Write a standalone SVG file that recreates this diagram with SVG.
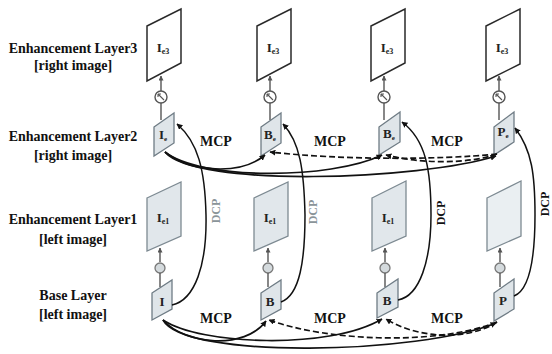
<svg xmlns="http://www.w3.org/2000/svg" width="552" height="354" viewBox="0 0 552 354">
  <style>
    text { font-family: 'Liberation Serif', 'DejaVu Serif', 'Times New Roman', serif; font-weight: bold; }
    .lbl { font-size: 14px; fill: #111; text-anchor: middle; }
    .tag { font-size: 14px; fill: #111; text-anchor: middle; }
    .dcp { font-size: 12px; text-anchor: middle; }
    .in  { font-size: 13px; fill: #222; text-anchor: middle; }
    .big3 { fill: #ffffff; stroke: #2a2a2a; stroke-width: 1.5; }
    .big1 { fill: #e1e7eb; stroke: #7d8a92; stroke-width: 1.3; }
    .small { fill: #dfe5e9; stroke: #6f7c85; stroke-width: 1.3; }
    .ring { fill: #ffffff; stroke: #555; stroke-width: 1.4; }
    .ring1 { fill: #d4dadd; stroke: #777; stroke-width: 1.3; }
    .up { stroke: #555; stroke-width: 1.4; fill: none; }
    .solid { fill: none; stroke: #111; stroke-width: 1.7; }
    .dash { fill: none; stroke: #111; stroke-width: 1.7; stroke-dasharray: 6 3; }
    .dcpline { fill: none; stroke: #111; stroke-width: 1.5; }
  </style>
  <defs>
    <marker id="ah" viewBox="0 0 10 10" refX="9" refY="5" markerWidth="6" markerHeight="6" orient="auto" markerUnits="userSpaceOnUse">
      <path d="M0,0 L10,5 L0,10 z" fill="#111"/>
    </marker>
    <marker id="ahs" viewBox="0 0 10 10" refX="9" refY="5" markerWidth="5" markerHeight="5" orient="auto" markerUnits="userSpaceOnUse">
      <path d="M0,0 L10,5 L0,10 z" fill="#555"/>
    </marker>
  </defs>

  <!-- layer captions -->
  <g id="captions">
    <text class="lbl" x="73" y="53">Enhancement Layer3</text>
    <text class="lbl" x="73" y="70">[right image]</text>
    <text class="lbl" x="73" y="141">Enhancement Layer2</text>
    <text class="lbl" x="73" y="160">[right image]</text>
    <text class="lbl" x="73" y="224">Enhancement Layer1</text>
    <text class="lbl" x="73" y="244">[left image]</text>
    <text class="lbl" x="73" y="300">Base Layer</text>
    <text class="lbl" x="73" y="319">[left image]</text>
  </g>

  <!-- column 1 -->
  <g id="col1">
    <polygon class="big3" points="147,26 181,9 181,63 147,81"/>
    <text class="in" x="163" y="52">I<tspan font-size="8" dy="2">e3</tspan></text>
    <line class="up" x1="161" y1="91" x2="161" y2="76" marker-end="url(#ahs)"/>
    <circle class="ring" cx="161" cy="97" r="6"/>
    <path d="M158,94 L164,100 M158,94 l3,0 M158,94 l0,3" stroke="#555" stroke-width="1.1" fill="none"/>
    <line class="up" x1="161" y1="103" x2="161" y2="120"/>
    <polygon class="small" points="154,127 174,113 174,143 154,156"/>
    <text class="in" x="163" y="139">I<tspan font-size="7" dy="2">e</tspan></text>
    <polygon class="big1" points="147,198 181,182 181,236 147,251"/>
    <text class="in" x="163" y="222">I<tspan font-size="8" dy="2">e1</tspan></text>
    <line class="up" x1="160" y1="262" x2="160" y2="248" marker-end="url(#ahs)"/>
    <circle class="ring1" cx="160" cy="268" r="5"/>
    <line class="up" x1="160" y1="273" x2="160" y2="287"/>
    <polygon class="small" points="152,293 172,280 172,309 152,320"/>
    <text class="in" x="162" y="306">I</text>
  </g>

  <!-- column 2 -->
  <g id="col2">
    <polygon class="big3" points="257,26 291,9 291,63 257,81"/>
    <text class="in" x="273" y="52">I<tspan font-size="8" dy="2">e3</tspan></text>
    <line class="up" x1="270" y1="91" x2="270" y2="76" marker-end="url(#ahs)"/>
    <circle class="ring" cx="270" cy="97" r="6"/>
    <path d="M267,94 L273,100 M267,94 l3,0 M267,94 l0,3" stroke="#555" stroke-width="1.1" fill="none"/>
    <line class="up" x1="270" y1="103" x2="270" y2="120"/>
    <polygon class="small" points="261,127 281,113 281,143 261,156"/>
    <text class="in" x="270" y="139">B<tspan font-size="7" dy="2">e</tspan></text>
    <polygon class="big1" points="254,198 288,182 288,236 254,251"/>
    <text class="in" x="270" y="222">I<tspan font-size="8" dy="2">e1</tspan></text>
    <line class="up" x1="268" y1="262" x2="268" y2="248" marker-end="url(#ahs)"/>
    <circle class="ring1" cx="268" cy="268" r="5"/>
    <line class="up" x1="268" y1="273" x2="268" y2="287"/>
    <polygon class="small" points="261,293 281,280 281,309 261,320"/>
    <text class="in" x="270" y="306">B</text>
  </g>

  <!-- column 3 -->
  <g id="col3">
    <polygon class="big3" points="371,26 405,9 405,63 371,81"/>
    <text class="in" x="387" y="52">I<tspan font-size="8" dy="2">e3</tspan></text>
    <line class="up" x1="384" y1="91" x2="384" y2="76" marker-end="url(#ahs)"/>
    <circle class="ring" cx="384" cy="97" r="6"/>
    <path d="M381,94 L387,100 M381,94 l3,0 M381,94 l0,3" stroke="#555" stroke-width="1.1" fill="none"/>
    <line class="up" x1="384" y1="103" x2="384" y2="120"/>
    <polygon class="small" points="379,127 400,112 400,142 379,155"/>
    <text class="in" x="389" y="138">B<tspan font-size="7" dy="2">e</tspan></text>
    <polygon class="big1" points="372,198 406,181 406,236 372,251"/>
    <text class="in" x="388" y="222">I<tspan font-size="8" dy="2">e1</tspan></text>
    <line class="up" x1="385" y1="262" x2="385" y2="248" marker-end="url(#ahs)"/>
    <circle class="ring1" cx="385" cy="268" r="5"/>
    <line class="up" x1="385" y1="273" x2="385" y2="287"/>
    <polygon class="small" points="377,293 398,279 398,307 377,318"/>
    <text class="in" x="387" y="305">B</text>
  </g>

  <!-- column 4 -->
  <g id="col4">
    <polygon class="big3" points="486,26 520,9 520,64 486,81"/>
    <text class="in" x="502" y="52">I<tspan font-size="8" dy="2">e3</tspan></text>
    <line class="up" x1="499" y1="91" x2="499" y2="76" marker-end="url(#ahs)"/>
    <circle class="ring" cx="499" cy="97" r="6"/>
    <path d="M496,94 L502,100 M496,94 l3,0 M496,94 l0,3" stroke="#555" stroke-width="1.1" fill="none"/>
    <line class="up" x1="499" y1="103" x2="499" y2="120"/>
    <polygon class="small" points="494,127 514,112 514,142 494,155"/>
    <text class="in" x="503" y="136">P<tspan font-size="7" dy="2">e</tspan></text>
    <polygon class="big1" points="487,198 521,181 521,236 487,251" style="fill:#eaeff2"/>
    <line class="up" x1="500" y1="262" x2="500" y2="248" marker-end="url(#ahs)"/>
    <circle class="ring1" cx="500" cy="268" r="5"/>
    <line class="up" x1="500" y1="273" x2="500" y2="287"/>
    <polygon class="small" points="494,293 514,279 514,309 494,321"/>
    <text class="in" x="503" y="305">P</text>
  </g>

  <!-- prediction connectors -->
  <g id="connectors">
    <!-- enhancement layer 2: motion compensated prediction -->
    <path class="solid" d="M165,152 C190,172 240,176 265,155" marker-end="url(#ah)"/>
    <path class="solid" d="M165,152 C200,180 330,180 382,155" marker-end="url(#ah)"/>
    <path class="solid" d="M165,152 C195,188 420,180 496,156" marker-end="url(#ah)"/>
    <path class="dash" d="M497,154 C470,164 420,164 386,155" marker-end="url(#ah)"/>
    <path class="dash" d="M497,154 C440,160 340,160 270,152" marker-end="url(#ah)"/>

    <!-- base layer: motion compensated prediction -->
    <path class="solid" d="M163,320 C185,345 245,350 266,321" marker-end="url(#ah)"/>
    <path class="solid" d="M163,320 C200,345 330,350 382,319" marker-end="url(#ah)"/>
    <path class="solid" d="M163,320 C185,360 420,354 496,323" marker-end="url(#ah)"/>
    <path class="dash" d="M497,322 C470,340 420,340 386,319" marker-end="url(#ah)"/>
    <path class="dash" d="M497,322 C440,345 330,342 269,320" marker-end="url(#ah)"/>

    <!-- disparity compensated prediction -->
    <path class="dcpline" d="M172,305 C195,300 207,265 206,215 C205,170 198,142 177,124" marker-end="url(#ah)"/>
    <path class="dcpline" d="M281,302 C300,295 305,260 305,215 C304,170 300,142 283,124" marker-end="url(#ah)"/>
    <path class="dcpline" d="M398,300 C420,296 431,260 431,215 C431,170 426,140 402,122" marker-end="url(#ah)"/>
    <path class="dcpline" d="M514,296 C530,290 535,255 535,215 C535,175 532,150 515,128" marker-end="url(#ah)"/>

    <!-- connector labels -->
    <text class="tag" x="216" y="146">MCP</text>
    <text class="tag" x="330" y="146">MCP</text>
    <text class="tag" x="447" y="146">MCP</text>
    <text class="tag" x="216" y="323">MCP</text>
    <text class="tag" x="330" y="323">MCP</text>
    <text class="tag" x="447" y="323">MCP</text>
    <text class="dcp" transform="translate(220,211) rotate(-90)" style="fill:#8a9499">DCP</text>
    <text class="dcp" transform="translate(317,212) rotate(-90)" style="fill:#8a9499">DCP</text>
    <text class="dcp" transform="translate(445,213) rotate(-90)" style="fill:#111">DCP</text>
    <text class="dcp" transform="translate(549,204) rotate(-90)" style="fill:#111">DCP</text>
  </g>
</svg>
